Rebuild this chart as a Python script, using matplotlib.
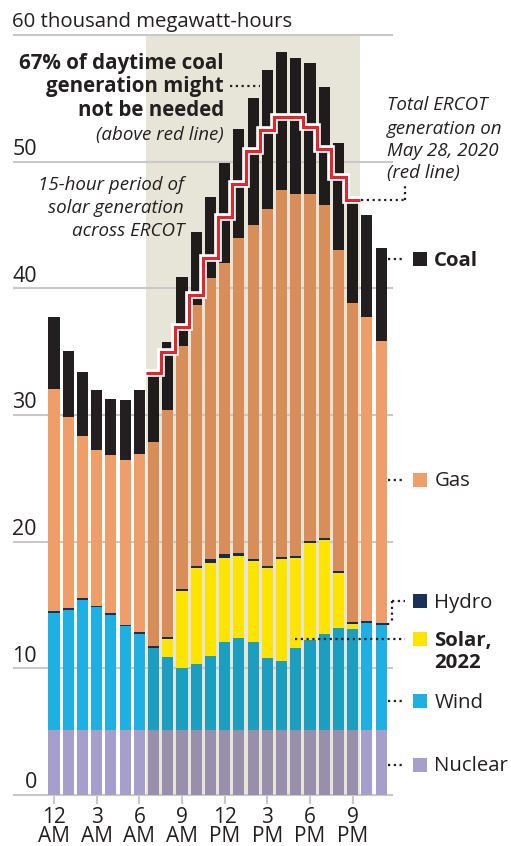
import matplotlib.pyplot as plt
import matplotlib.patheffects as pe
import numpy as np

plt.rcParams['font.family'] = ['Open Sans', 'DejaVu Sans']

# hourly generation, thousand MWh (hour 0 = 12 AM)
hours = np.arange(24)
nuclear = [5.1] * 24
wind = [9.3, 9.5, 10.3, 9.7, 9.1, 8.2, 7.6, 6.5, 5.8, 4.9, 5.2, 5.9,
        7.0, 7.3, 7.0, 5.7, 5.5, 6.5, 7.1, 7.6, 8.1, 8.0, 8.5, 8.3]
solar = [0, 0, 0, 0, 0, 0, 0, 0, 1.4, 6.1, 7.6, 7.3,
         6.6, 6.5, 6.4, 7.1, 8.0, 7.1, 7.7, 7.4, 4.3, 0.4, 0, 0]
hydro = [0.15, 0.15, 0.15, 0.15, 0.15, 0.15, 0.15, 0.15, 0.15, 0.15, 0.2, 0.3,
         0.3, 0.2, 0.15, 0.15, 0.15, 0.15, 0.15, 0.15, 0.15, 0.15, 0.15, 0.15]
gas = [17.5, 15.1, 12.8, 12.3, 12.5, 13.0, 14.1, 16.1, 17.9, 19.2, 20.6, 22.2,
       23.0, 24.9, 26.3, 28.2, 29.0, 28.6, 27.4, 26.3, 25.4, 25.2, 24.0, 22.3]
coal = [5.7, 5.2, 5.0, 4.7, 4.4, 4.7, 5.0, 5.2, 5.4, 5.4, 5.7, 6.4,
        7.9, 8.6, 10.1, 11.0, 10.9, 10.7, 10.3, 9.3, 8.4, 7.9, 8.0, 7.3]

# total ERCOT generation on May 28, 2020 (hours 7..21)
red_hours = np.arange(7, 22)
total_2020 = [33.3, 35.0, 36.9, 39.5, 42.4, 45.6, 48.2, 50.8,
              52.5, 53.5, 53.5, 52.7, 51.0, 48.8, 47.0]

tick_hours = [0, 3, 6, 9, 12, 15, 18, 21]
tick_nums = ['12', '3', '6', '9', '12', '3', '6', '9']
tick_ampm = ['AM', 'AM', 'AM', 'AM', 'PM', 'PM', 'PM', 'PM']
grid_vals = [0, 10, 20, 30, 40, 50, 60]

layers = [('Nuclear', nuclear, '#a79fcb'),
          ('Wind', wind, '#1eb0e3'),
          ('Solar', solar, '#ffe400'),
          ('Hydro', hydro, '#1c3158'),
          ('Gas', gas, '#ef9e69'),
          ('Coal', coal, '#231f20')]

txt = '#231f20'
shade = np.array([231, 229, 215]) / 255.0
shade_lo, shade_hi = 6.5, 21.5

fig = plt.figure(figsize=(5.11, 8.46), dpi=100)
ax = fig.add_axes([0, 0, 1, 1])
ax.set_xlim(-3.8, 32.14)
ax.set_ylim(-4.03, 62.75)
ax.axis('off')

# shaded solar period
ax.fill_between([shade_lo, shade_hi], 0, 60, color=shade, lw=0, zorder=0)

# gridlines
for v in grid_vals:
    ax.plot([-2.88, 23.84], [v, v], color='#c8c8c8', lw=1.5, zorder=1,
            solid_capstyle='butt')
    if v < 60:
        ax.text(-1.2, v + 0.95, str(v), ha='right', va='center',
                fontsize=15.5, color=txt)
ax.text(-2.95, 61.0, '60 thousand megawatt-hours', ha='left', va='center',
        fontsize=14.7, color=txt)

# stacked bars; bars inside the shade get darkened (multiply), except solar
bottom = np.zeros(24)
for name, vals, col in layers:
    vals = np.array(vals, dtype=float)
    rgb = np.array(plt.matplotlib.colors.to_rgb(col))
    cols = [tuple(rgb * shade) if (shade_lo < h < shade_hi and name != 'Solar')
            else tuple(rgb) for h in hours]
    ax.bar(hours, vals, bottom=bottom, width=0.78, color=cols, lw=0, zorder=2)
    bottom += vals

# red line
ax.stairs(total_2020, np.append(red_hours - 0.5, red_hours[-1] + 0.5),
          baseline=None, color='#e3262e', lw=2.2, zorder=4,
          path_effects=[pe.withStroke(linewidth=5.5, foreground='white')])

# x ticks
for h, n, a in zip(tick_hours, tick_nums, tick_ampm):
    ax.plot([h, h], [0, -0.65], color='#c8c8c8', lw=1.5, zorder=1)
    ax.text(h, -1.8, n, ha='center', va='center', fontsize=15, color=txt)
    ax.text(h, -3.3, a, ha='center', va='center', fontsize=15, color=txt)

dot = dict(color=txt, lw=1.6, ls=(0, (1, 1.6)), zorder=5)

# legend on the right
leg_y = {'Coal': 42.3, 'Gas': 24.9, 'Hydro': 15.3, 'Solar': 12.3,
         'Wind': 7.4, 'Nuclear': 2.4}
for name, vals, col in layers:
    y = leg_y[name]
    ax.scatter([25.74], [y], marker='s', s=105, color=col, lw=0, zorder=5)
    if name == 'Solar':
        ax.text(26.75, y - 0.15, 'Solar,', ha='left', va='center', fontsize=14.7,
                fontweight='bold', color=txt)
        ax.text(26.75, 10.45, '2022', ha='left', va='center', fontsize=14.7,
                fontweight='bold', color=txt)
    else:
        ax.text(26.75, y - 0.15, name, ha='left', va='center', fontsize=14.7,
                fontweight='bold' if name == 'Coal' else 'normal', color=txt)

for name in ['Coal', 'Gas', 'Wind', 'Nuclear']:
    ax.plot([23.5, 24.68], [leg_y[name]] * 2, **dot)
ax.plot([23.77, 24.68], [leg_y['Hydro']] * 2, **dot)
ax.plot([23.77, 23.77], [leg_y['Hydro'], 13.5], **dot)
ax.plot([23.45, 23.77], [13.5, 13.5], **dot)
ax.plot([16.95, 24.68], [leg_y['Solar']] * 2, **dot)

# annotations
for y, s in [(57.7, '67% of daytime coal'), (55.95, 'generation might'),
             (54.05, 'not be needed')]:
    ax.text(11.95, y, s, ha='right', va='center', fontsize=14.8,
            fontweight='bold', color=txt, zorder=6)
ax.text(11.95, 52.1, '(above red line)', ha='right', va='center',
        fontsize=13.5, style='italic', color=txt, zorder=6)
ax.plot([12.4, 14.5], [56.0, 56.0], **dot)

for y, s in [(48.15, '15-hour period of'), (46.3, 'solar generation'),
             (44.55, 'across ERCOT')]:
    ax.text(9.14, y, s, ha='right', va='center', fontsize=13.5,
            style='italic', color=txt, zorder=6)

for y, s in [(54.5, 'Total ERCOT'), (52.6, 'generation on'),
             (50.85, 'May 28, 2020'), (49.1, '(red line)')]:
    ax.text(23.42, y, s, ha='left', va='center', fontsize=13.5,
            style='italic', color=txt, zorder=6)
ax.plot([21.6, 24.68], [47.0, 47.0], **dot)
ax.plot([24.68, 24.68], [47.0, 48.1], **dot)

fig.savefig('out.png', dpi=100)
